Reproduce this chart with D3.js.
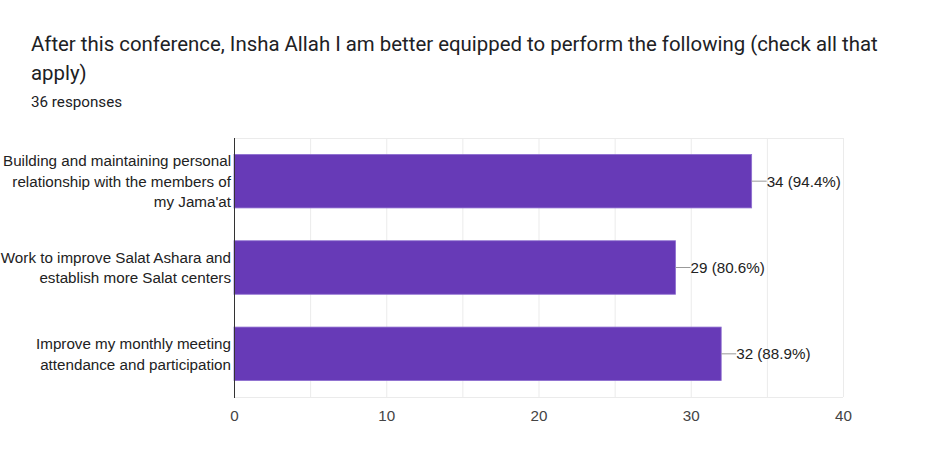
<!DOCTYPE html>
<html>
<meta charset="utf-8">
<script src="https://d3js.org/d3.v7.js"></script>
<style>
    body { margin: 0; background: #fff; }
</style>
<body>
    <div id="chart"></div>
    <script>
        // chart data
        var titleLines = ["After this conference, Insha Allah I am better equipped to perform the following (check all that", "apply)"]
        var subtitle = "36 responses"
        var categories = [
            ["Building and maintaining personal", "relationship with the members of", "my Jama'at"],
            ["Work to improve Salat Ashara and", "establish more Salat centers"],
            ["Improve my monthly meeting", "attendance and participation"]
        ]
        var counts = [34, 29, 32]
        var labels = ["34 (94.4%)", "29 (80.6%)", "32 (88.9%)"]
        var xTicks = [0, 10, 20, 30, 40]
        var gridTicks = [5, 10, 15, 20, 25, 30, 35, 40]

        var W = 936, H = 476
        var margin = { top: 138, right: 93, bottom: 79, left: 234 },
            width = W - margin.left - margin.right,
            height = H - margin.top - margin.bottom;

        var svg = d3.select("#chart").append("svg")
            .attr("width", W).attr("height", H)

        // title
        var title = svg.append("text")
            .attr("x", 31).attr("y", 51)
            .style("font-family", "Roboto, sans-serif")
            .style("font-size", "20.4px")
            .style("fill", "#202124")
        title.selectAll("tspan").data(titleLines).enter().append("tspan")
            .attr("x", 31)
            .attr("dy", function (d, i) { return i == 0 ? 0 : 29 })
            .text(function (d) { return d })

        svg.append("text")
            .attr("x", 31).attr("y", 107)
            .style("font-family", "Roboto, sans-serif")
            .style("font-size", "15.2px")
            .style("fill", "#202124")
            .text(subtitle)

        var g = svg.append("g")
            .attr("transform", "translate(" + margin.left + "," + margin.top + ")")

        var x = d3.scaleLinear().domain([0, 40]).range([0, width])
        var y = d3.scaleBand()
            .domain(d3.range(counts.length))
            .range([0, height])
            .paddingInner(0.38)
            .paddingOuter(0.19)

        // gridlines
        g.selectAll(".grid").data(gridTicks).enter().append("line")
            .attr("x1", function (d) { return x(d) + 0.5 })
            .attr("x2", function (d) { return x(d) + 0.5 })
            .attr("y1", 0).attr("y2", height)
            .style("stroke", "#ebebeb")
        g.append("line")
            .attr("x1", 0).attr("x2", width)
            .attr("y1", 0.5).attr("y2", 0.5)
            .style("stroke", "#ebebeb")
        g.append("line")
            .attr("x1", 0).attr("x2", width)
            .attr("y1", height + 0.5).attr("y2", height + 0.5)
            .style("stroke", "#ebebeb")

        // bars
        g.selectAll(".bar").data(counts).enter().append("rect")
            .attr("x", x(0))
            .attr("y", function (d, i) { return y(i) })
            .attr("width", function (d) { return x(d) - x(0) })
            .attr("height", y.bandwidth())
            .style("fill", "#673ab7")
            .style("stroke", "#8e6fd0")
            .style("stroke-width", 0.8)

        // leader lines and value labels
        g.selectAll(".lead").data(counts).enter().append("line")
            .attr("x1", function (d) { return x(d) })
            .attr("x2", function (d) { return x(d) + 15 })
            .attr("y1", function (d, i) { return y(i) + y.bandwidth() / 2 })
            .attr("y2", function (d, i) { return y(i) + y.bandwidth() / 2 })
            .style("stroke", "#999")
        g.selectAll(".val").data(counts).enter().append("text")
            .attr("x", function (d) { return x(d) + 15 })
            .attr("y", function (d, i) { return y(i) + y.bandwidth() / 2 })
            .attr("dy", "0.36em")
            .style("font-family", "'Liberation Sans', Arial, sans-serif")
            .style("font-size", "15.2px")
            .style("fill", "#222")
            .text(function (d, i) { return labels[i] })

        // left axis line
        g.append("line")
            .attr("x1", 0.5).attr("x2", 0.5)
            .attr("y1", 0).attr("y2", height + 1)
            .style("stroke", "#333")

        // category labels
        g.selectAll(".cat").data(categories).enter().append("text")
            .attr("text-anchor", "end")
            .attr("y", function (d, i) { return y(i) + y.bandwidth() / 2 - (d.length - 1) * 10.25 })
            .style("font-family", "'Liberation Sans', Arial, sans-serif")
            .style("font-size", "15.2px")
            .style("fill", "#222")
            .each(function (d) {
                d3.select(this).selectAll("tspan").data(d).enter().append("tspan")
                    .attr("x", -3)
                    .attr("dy", function (t, j) { return j == 0 ? "0.36em" : 20.5 })
                    .text(function (t) { return t })
            })

        // x axis
        var xAxis = g.append("g")
            .attr("transform", "translate(0," + height + ")")
            .call(d3.axisBottom(x).tickValues(xTicks).tickSize(0).tickPadding(13))
        xAxis.select(".domain").remove()
        xAxis.selectAll("text")
            .style("font-family", "'Liberation Sans', Arial, sans-serif")
            .style("font-size", "15.2px")
            .style("fill", "#444")
    </script>
</body>
</html>
